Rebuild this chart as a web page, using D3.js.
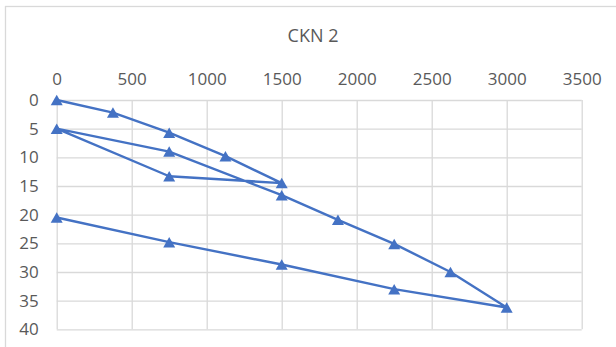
<!DOCTYPE html>
<html>
<head>
<meta charset="utf-8">
<script src="https://cdn.jsdelivr.net/npm/d3@7"></script>
<style>
  html, body { margin: 0; padding: 0; background: #fff; }
  svg { display: block; }
  text { font-family: "Open Sans", "Noto Sans", sans-serif; fill: #595959; }
</style>
</head>
<body>
<svg id="chart" width="616" height="347"></svg>
<script>
// Path of the measured profile: distance (x) against depth (y)
const distance = [0, 375, 750, 1125, 1500, 750, 0, 750, 1500, 1875, 2250, 2625, 3000, 2250, 1500, 750, 0];
const depth    = [0, 2.2, 5.7, 9.8, 14.5, 13.3, 5, 9.0, 16.6, 20.9, 25.1, 30.0, 36.2, 33.0, 28.7, 24.8, 20.5];

const xTicks = [0, 500, 1000, 1500, 2000, 2500, 3000, 3500];
const yTicks = [0, 5, 10, 15, 20, 25, 30, 35, 40];
const chartTitle = "CKN 2";

const plot = { left: 56.7, right: 581.7, top: 100, bottom: 329.3 };
const blue = "#4472C4", grid = "#d9d9d9";

const svg = d3.select("#chart");

// chart frame (runs off the right and bottom edges)
svg.append("rect")
  .attr("x", 5.5).attr("y", 6.5)
  .attr("width", 700).attr("height", 400)
  .attr("fill", "#fff").attr("stroke", grid).attr("stroke-width", 1.3);

const x = d3.scaleLinear().domain([0, 3500]).range([plot.left, plot.right]);
const y = d3.scaleLinear().domain([0, 40]).range([plot.top, plot.bottom]);

// title
svg.append("text")
  .attr("x", 313)
  .attr("y", 42)
  .attr("text-anchor", "middle")
  .style("font-size", "18px")
  .text(chartTitle);

// x axis on top with vertical gridlines
const xAxis = svg.append("g")
  .attr("transform", `translate(0,${plot.top})`)
  .call(d3.axisTop(x).tickValues(xTicks).tickSize(-(plot.bottom - plot.top)).tickPadding(15).tickFormat(d3.format("d")));
xAxis.select(".domain").remove();
xAxis.selectAll("line").attr("stroke", grid).attr("stroke-width", 1.3);
xAxis.selectAll("text").style("font-size", "17px").attr("fill", "#595959");

// y axis (reversed) with horizontal gridlines
const yAxis = svg.append("g")
  .attr("transform", `translate(${plot.left},0)`)
  .call(d3.axisLeft(y).tickValues(yTicks).tickSize(-(plot.right - plot.left)).tickPadding(18).tickFormat(d3.format("d")));
yAxis.select(".domain").remove();
yAxis.selectAll("line").attr("stroke", grid).attr("stroke-width", 1.3);
yAxis.selectAll("text").style("font-size", "17px").attr("fill", "#595959");

const pts = distance.map((d, i) => [d, depth[i]]);

// connecting line
svg.append("path")
  .datum(pts)
  .attr("fill", "none")
  .attr("stroke", blue)
  .attr("stroke-width", 2.4)
  .attr("stroke-linejoin", "round")
  .attr("d", d3.line().x(d => x(d[0])).y(d => y(d[1])));

// triangle markers, centred on each point
const tw = 12, th = 10.5;
svg.append("g").selectAll("path")
  .data(pts)
  .join("path")
  .attr("fill", blue)
  .attr("d", d => {
    const cx = x(d[0]), cy = y(d[1]);
    return `M${cx},${cy - th / 2}L${cx + tw / 2},${cy + th / 2}L${cx - tw / 2},${cy + th / 2}Z`;
  });
</script>
</body>
</html>
